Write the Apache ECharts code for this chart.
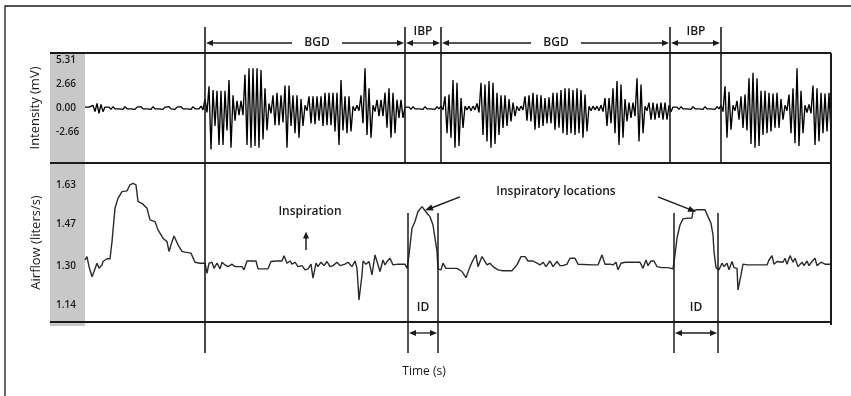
<!DOCTYPE html>
<html><head><meta charset="utf-8">
<script src="https://cdn.jsdelivr.net/npm/echarts@6/dist/echarts.min.js"></script>
<style>html,body{margin:0;padding:0;background:#fff}#c{width:851px;height:396px}</style>
</head><body><div id="c"></div>
<script>
// ---------- DATA ----------
// Sound intensity envelope (mV), one sample every 4 time units from t = 0
const intensityStep = 4;
const intensityUpper = [
 0.1,0.1,0.3,0.5,0.4,0.1,0.1,0.15,0.1,0.1,
 0.15,0.1,0.1,0.1,0.15,0.1,0.1,0.15,0.1,0.1,
 0.1,0.15,0.1,0.1,0.15,0.1,0.1,0.15,0.1,0.2,
 1.0,2.4,2.0,1.9,1.9,1.9,3.1,1.4,0.8,0.8,
 3.7,4.4,4.4,4.4,4.2,2.2,0.5,1.4,1.7,1.4,
 2.5,2.5,1.4,1.4,1.0,0.3,1.3,1.3,1.3,1.3,
 1.7,1.7,1.7,1.7,3.1,1.3,1.3,0.2,0.3,1.4,
 4.4,2.2,0.3,0.9,0.9,1.7,2.2,1.7,0.9,0.9,
 0.1,0.1,0.15,0.1,0.1,0.15,0.1,0.1,0.15,0.2,
 1.3,1.5,3.1,2.8,1.1,0.2,0.2,0.2,0.5,2.8,
 2.6,3.0,2.8,1.7,1.4,1.4,1.0,0.6,0.2,0.2,
 1.3,1.4,1.7,1.5,1.4,1.1,1.2,1.7,1.7,2.0,
 2.2,2.2,2.0,2.2,2.0,1.5,0.2,0.2,0.2,0.3,
 1.1,1.1,2.2,3.0,2.6,1.0,0.6,0.6,3.3,2.6,
 0.2,0.6,0.6,0.5,0.6,0.6,0.3,0.1,0.1,0.15,
 0.1,0.1,0.15,0.1,0.1,0.15,0.1,0.1,0.15,0.3,
 2.4,1.8,0.3,0.8,1.3,1.5,3.3,3.9,3.3,1.9,
 1.9,1.7,1.6,1.7,1.0,0.3,1.5,2.2,4.4,1.9,
 0.3,0.4,2.5,2.2,1.7,1.6,1.7
];
const intensityLower = [
 0.1,0.1,0.4,0.6,0.4,0.1,0.15,0.1,0.1,0.15,
 0.1,0.1,0.15,0.1,0.1,0.1,0.15,0.1,0.1,0.15,
 0.1,0.1,0.15,0.1,0.1,0.1,0.15,0.1,0.1,0.2,
 0.5,4.6,2.0,4.1,4.1,2.5,4.4,1.4,0.8,0.8,
 4.1,4.4,4.2,4.4,3.5,2.5,0.6,1.9,1.9,1.6,
 4.4,2.0,2.8,3.3,2.0,0.3,1.7,1.8,1.4,2.0,
 1.9,1.9,2.6,4.1,2.5,2.8,2.6,0.3,0.3,1.7,
 3.0,3.3,0.4,0.9,0.9,2.2,3.3,2.8,1.1,1.1,
 0.1,0.15,0.1,0.1,0.15,0.1,0.1,0.15,0.1,0.2,
 2.8,3.3,4.4,4.2,2.2,0.2,0.3,0.2,0.5,3.0,
 3.7,4.4,4.0,3.0,2.2,2.0,1.5,0.9,0.3,0.2,
 1.4,1.5,2.4,2.2,2.0,1.7,1.7,2.4,2.2,2.8,
 3.0,2.8,3.0,2.8,3.3,2.6,0.3,0.2,0.3,0.4,
 2.0,1.7,2.8,4.1,3.3,1.5,1.1,0.9,3.7,2.8,
 0.3,1.3,1.3,1.1,1.3,1.3,0.4,0.1,0.15,0.1,
 0.1,0.15,0.1,0.1,0.15,0.1,0.1,0.15,0.1,0.4,
 3.3,2.4,0.3,1.3,2.2,2.5,4.0,4.4,4.2,3.0,
 2.8,2.6,2.2,2.2,1.3,0.3,2.8,3.9,4.2,2.8,
 0.5,0.6,4.1,3.7,2.8,2.6,2.8
];
const intensityTicks = [5.31, 2.66, 0.00, -2.66];

// Airflow (liters/s)
const airTime = [0,2,4,7,9,12,14,17,18,22,25,27,30,33,37,42,45,48,51,53,58,62,65,70,73,78,82,84,87,89,93,97,100,106,110,115,120,122,124,127,129,132,135,137,140,143,147,150,157,159,162,167,171,173,178,183,186,192,197,199,202,205,207,210,213,217,220,223,226,228,231,233,236,239,242,245,248,252,255,260,263,267,270,272,274,277,278,281,284,287,290,292,295,298,300,302,305,308,313,320,322,324,327,330,333,337,339,342,345,348,350,352,353,356,358,361,365,372,377,381,385,388,391,393,397,399,402,405,408,410,413,418,427,432,436,440,443,448,452,455,458,461,465,468,472,475,478,482,485,490,493,495,508,513,517,520,525,528,531,533,536,540,555,558,561,563,566,569,572,577,583,588,590,592,595,598,603,607,608,611,620,623,626,628,629,631,634,637,639,642,644,647,649,652,653,656,658,662,672,682,684,687,689,692,694,698,700,702,705,708,710,713,717,719,722,724,727,730,732,736,740,746];
const airFlow = [1.324,1.338,1.297,1.256,1.277,1.311,1.290,1.304,1.318,1.329,1.329,1.399,1.535,1.576,1.603,1.606,1.631,1.637,1.631,1.563,1.552,1.535,1.488,1.481,1.447,1.413,1.399,1.359,1.399,1.422,1.386,1.359,1.356,1.352,1.315,1.311,1.311,1.270,1.311,1.315,1.290,1.311,1.288,1.315,1.304,1.297,1.307,1.297,1.297,1.284,1.320,1.320,1.320,1.288,1.288,1.288,1.318,1.320,1.320,1.341,1.311,1.320,1.307,1.315,1.297,1.301,1.284,1.288,1.307,1.250,1.311,1.297,1.315,1.301,1.318,1.297,1.301,1.315,1.301,1.307,1.315,1.297,1.320,1.290,1.161,1.263,1.320,1.307,1.318,1.263,1.345,1.345,1.277,1.324,1.304,1.318,1.331,1.304,1.307,1.307,1.290,1.345,1.454,1.481,1.522,1.542,1.535,1.515,1.501,1.467,1.413,1.359,1.288,1.284,1.311,1.290,1.290,1.290,1.277,1.252,1.297,1.324,1.345,1.297,1.338,1.338,1.304,1.311,1.297,1.304,1.284,1.280,1.280,1.304,1.338,1.338,1.320,1.320,1.311,1.304,1.315,1.297,1.320,1.297,1.318,1.301,1.301,1.307,1.331,1.331,1.307,1.304,1.304,1.304,1.345,1.307,1.307,1.304,1.315,1.284,1.311,1.315,1.315,1.290,1.324,1.301,1.320,1.320,1.297,1.293,1.293,1.288,1.345,1.413,1.467,1.492,1.495,1.495,1.524,1.529,1.529,1.501,1.474,1.427,1.359,1.293,1.284,1.311,1.297,1.311,1.284,1.318,1.293,1.290,1.202,1.263,1.307,1.304,1.304,1.304,1.324,1.342,1.307,1.318,1.315,1.315,1.331,1.307,1.342,1.315,1.331,1.297,1.315,1.301,1.320,1.301,1.318,1.331,1.301,1.315,1.307,1.307];
const airflowTicks = [1.63, 1.47, 1.30, 1.14];

// Annotated phases (time units)
const segBounds = [120, 320, 356, 585, 636];
const segNames = ['BGD', 'IBP', 'BGD', 'IBP'];
const segLabelTimes = [232, 338, 471, 611];
const idIntervals = [[323, 353], [589, 633]];
const peakTimes = [339, 611];

// ---------- CHART ----------
const chart = echarts.init(document.getElementById('c'), null, {renderer: 'canvas'});
const FONT = '"Open Sans", "DejaVu Sans", sans-serif';
const INK = '#1a1a1a';
const T_MAX = 746, I_RANGE = 6.1, F_MIN = 1.071, F_MAX = 1.72;

const wave = [];
intensityUpper.forEach((u, i) => {
  const t = i * intensityStep;
  wave.push([t, u]);
  wave.push([t + intensityStep / 2, -intensityLower[i]]);
});
const flow = airTime.map((t, i) => [t, airFlow[i]]);

const yLabel = {
  formatter: v => v.toFixed(2), align: 'left', margin: 29,
  fontFamily: FONT, fontSize: 10, fontWeight: 600, color: INK
};
const yName = {fontFamily: FONT, fontSize: 13, color: INK};

chart.setOption({
  animation: false,
  backgroundColor: '#fff',
  grid: [
    {left: 85, top: 53, width: 746, height: 110, outerBoundsMode: 'none'},
    {left: 85, top: 163, width: 746, height: 159, outerBoundsMode: 'none'}
  ],
  xAxis: [
    {gridIndex: 0, type: 'value', min: 0, max: T_MAX, show: false},
    {gridIndex: 1, type: 'value', min: 0, max: T_MAX, show: false}
  ],
  yAxis: [
    {gridIndex: 0, type: 'value', min: -I_RANGE, max: I_RANGE,
     axisLine: {show: false}, axisTick: {show: false}, splitLine: {show: false},
     axisLabel: Object.assign({}, yLabel, {customValues: intensityTicks}),
     name: 'Intensity (mV)', nameLocation: 'middle', nameGap: 43, nameRotate: 90, nameTextStyle: yName},
    {gridIndex: 1, type: 'value', min: F_MIN, max: F_MAX,
     axisLine: {show: false}, axisTick: {show: false}, splitLine: {show: false},
     axisLabel: Object.assign({}, yLabel, {customValues: airflowTicks}),
     name: 'Airflow (liters/s)', nameLocation: 'middle', nameGap: 42, nameRotate: 90, nameTextStyle: yName}
  ],
  series: [
    {type: 'line', xAxisIndex: 0, yAxisIndex: 0, data: wave, symbol: 'none',
     lineStyle: {color: '#000', width: 1.35}, z: 3},
    {type: 'line', xAxisIndex: 1, yAxisIndex: 1, data: flow, symbol: 'none',
     lineStyle: {color: '#2a2a2a', width: 1.4}, z: 3}
  ]
});

function arrowHead(tx, ty, ang, L, W) {
  L = L || 7; W = W || 3;
  const c = Math.cos(ang), s = Math.sin(ang);
  const bx = tx - L * c, by = ty - L * s;
  return {type: 'polygon', z: 20, shape: {points: [[tx, ty], [bx - W * s, by + W * c], [bx + W * s, by - W * c]]},
          style: {fill: INK}};
}
function seg(x1, y1, x2, y2, w) {
  return {type: 'line', z: 20, shape: {x1, y1, x2, y2}, style: {stroke: INK, lineWidth: w || 1.5}};
}
function txt(s, x, y, size, weight) {
  return {type: 'text', z: 21, x, y, style: {text: s, fill: INK, font: (weight || 600) + ' ' + (size || 12) + 'px ' + FONT,
          align: 'center', verticalAlign: 'middle'}};
}

function drawAnnotations() {
  const xOf = t => chart.convertToPixel({xAxisIndex: 0}, t);
  const yI = v => chart.convertToPixel({yAxisIndex: 0}, v);
  const yF = v => chart.convertToPixel({yAxisIndex: 1}, v);
  const left = xOf(0), right = xOf(T_MAX);
  const top0 = yI(I_RANGE), mid = yI(-I_RANGE), bot = yF(F_MIN);
  const G = [];
  // outer frame
  G.push({type: 'rect', z: 1, shape: {x: 5, y: 6, width: 900, height: 500}, style: {fill: 'none', stroke: INK, lineWidth: 1.3}});
  // grey label strip
  G.push({type: 'rect', z: -1, shape: {x: left - 35, y: top0, width: 35, height: bot - top0 + 4}, style: {fill: '#c8c8c8'}});
  // panel rules
  [top0, mid, bot].forEach(y => G.push(seg(left - 35, y, right, y, 2)));
  G.push(seg(right, top0, right, bot + 3, 2));
  // phase boundaries
  const capY = top0 - 26, arrowY = top0 - 10;
  segBounds.forEach((t, i) => {
    const x = xOf(t);
    G.push(seg(x, capY, x, i === 0 ? bot + 31 : mid, 1.6));
  });
  // phase arrows and labels
  segNames.forEach((name, i) => {
    const x1 = xOf(segBounds[i]) + 1, x2 = xOf(segBounds[i + 1]) - 1;
    const lx = xOf(segLabelTimes[i]);
    if (x2 - x1 > 80) {
      G.push(seg(x1 + 4, arrowY, lx - 25, arrowY, 1.3));
      G.push(seg(lx + 25, arrowY, x2 - 4, arrowY, 1.3));
      G.push(txt(name, lx, arrowY, 12, 600));
    } else {
      G.push(seg(x1 + 4, arrowY, x2 - 4, arrowY, 1.3));
      G.push(txt(name, lx, arrowY - 11, 12, 600));
    }
    G.push(arrowHead(x1, arrowY, Math.PI));
    G.push(arrowHead(x2, arrowY, 0));
  });
  // inspiration durations
  idIntervals.forEach(([a, b]) => {
    const x1 = xOf(a), x2 = xOf(b);
    const yTopID = bot - 109, yEnd = bot + 31, yArr = bot + 11;
    G.push(seg(x1, yTopID, x1, yEnd, 1.5));
    G.push(seg(x2, yTopID, x2, yEnd, 1.5));
    G.push(seg(x1 + 4, yArr, x2 - 4, yArr, 1.3));
    G.push(arrowHead(x1 + 1, yArr, Math.PI));
    G.push(arrowHead(x2 - 1, yArr, 0));
    G.push(txt('ID', (x1 + x2) / 2, bot - 14, 12, 600));
  });
  // time label
  const tc = (xOf(idIntervals[0][0]) + xOf(idIntervals[0][1])) / 2 + 1;
  G.push(txt('Time (s)', tc, bot + 50, 12, 500));
  // Inspiration note
  G.push(txt('Inspiration', 310, yF(1.52), 12, 600));
  G.push(seg(306, yF(1.365), 306, yF(1.44) + 5, 1.5));
  G.push(arrowHead(306, yF(1.44), -Math.PI / 2, 7, 3));
  // Inspiratory locations
  const lcx = 556, lcy = yF(1.602);
  G.push(txt('Inspiratory locations', lcx, lcy, 12, 600));
  const tails = [[lcx - 96, lcy + 5], [lcx + 102, lcy + 5]];
  peakTimes.forEach((t, i) => {
    const k = airTime.indexOf(t);
    const [px, py] = chart.convertToPixel({gridIndex: 1}, [t, airFlow[k]]);
    const tipX = px + (i === 0 ? 1 : 0), tipY = py + 2;
    const [sx, sy] = tails[i];
    const ang = Math.atan2(tipY - sy, tipX - sx);
    G.push(seg(sx, sy, tipX - 6 * Math.cos(ang), tipY - 6 * Math.sin(ang), 1.5));
    G.push(arrowHead(tipX, tipY, ang, 8, 3.2));
  });
  chart.setOption({graphic: {elements: G}});
}
drawAnnotations();
</script>
</body></html>
